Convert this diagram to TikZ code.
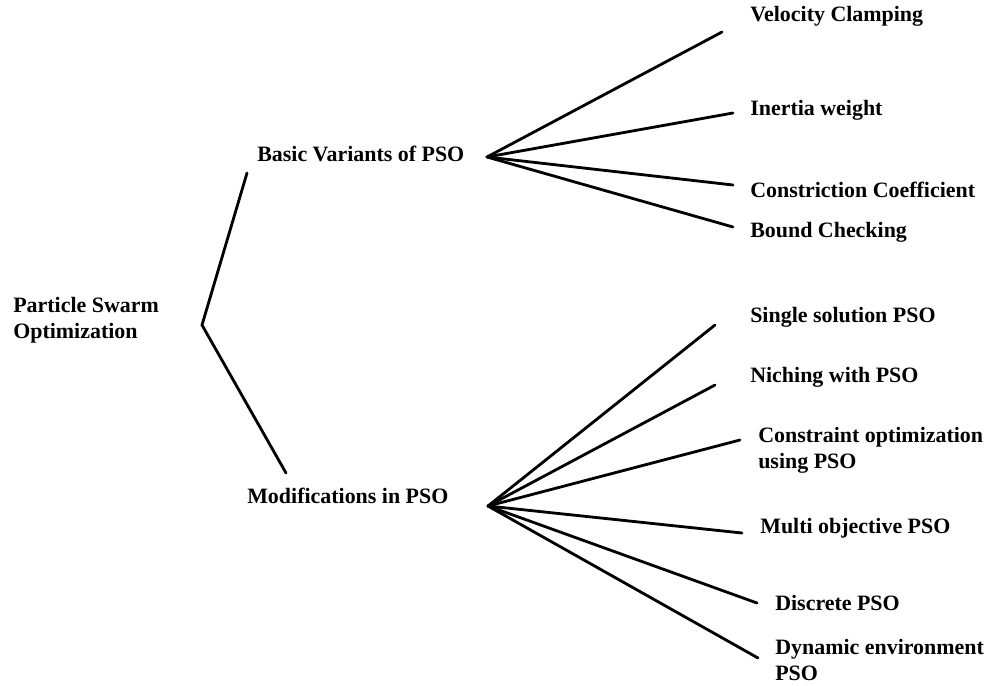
\documentclass[tikz,border=0pt]{standalone}
\usepackage{fontspec}
\setmainfont{Liberation Serif}
\usetikzlibrary{positioning}
\tikzset{
Topic/.style={
	font=\bfseries\fontsize{15.6}{18.5}\selectfont,
	align=left,
	inner sep=0pt,
	anchor=west
},
Leaf/.style={
	Topic
},
Edge/.style={
	draw=black,
	line width=2pt,
	line cap=round
}
}

\begin{document}
\begin{tikzpicture}[x=0.025cm, y=-0.025cm]
	\useasboundingbox (0,0) rectangle (992,685);

	\node[Topic] (PSO) at (13,320) {Particle Swarm\\Optimization};
	\node[Topic] (Basic) at (257,154) {Basic Variants of PSO};
	\node[Topic] (Mod) at (247,496) {Modifications in PSO};

	\coordinate (Root) at (202,325);
	\coordinate (BasicIn) at (247,173);
	\coordinate (ModIn) at (286,473);
	\coordinate (BasicFan) at (487,157);
	\coordinate (ModFan) at (488,506);

	% basic variants
	\node[Leaf] (VC) at (750,16) {Velocity Clamping};
	\node[Leaf] (IW) at (750,110) {Inertia weight};
	\node[Leaf] (CC) at (750,190) {Constriction Coefficient};
	\node[Leaf] (BC) at (750,232) {Bound Checking};
	\coordinate (VCend) at (722,32);
	\coordinate (IWend) at (733,113);
	\coordinate (CCend) at (733,185);
	\coordinate (BCend) at (733,227);

	% modifications
	\node[Leaf] (SS) at (750,317) {Single solution PSO};
	\node[Leaf] (NW) at (750,377) {Niching with PSO};
	\node[Leaf] (CO) at (758,450) {Constraint optimization\\using PSO};
	\node[Leaf] (MO) at (760,528) {Multi objective PSO};
	\node[Leaf] (DP) at (775,603) {Discrete PSO};
	\node[Leaf] (DE) at (775,660) {Dynamic environment\\PSO};
	\coordinate (SSend) at (715,325);
	\coordinate (NWend) at (715,385);
	\coordinate (COend) at (740,440);
	\coordinate (MOend) at (742,533);
	\coordinate (DPend) at (757,603);
	\coordinate (DEend) at (758,658);

	\draw[Edge] (BasicIn) -- (Root) -- (ModIn);
	\foreach \n in {VC,IW,CC,BC}
		\draw[Edge] (BasicFan) -- (\n end);
	\foreach \n in {SS,NW,CO,MO,DP,DE}
		\draw[Edge] (ModFan) -- (\n end);
\end{tikzpicture}
\end{document}
